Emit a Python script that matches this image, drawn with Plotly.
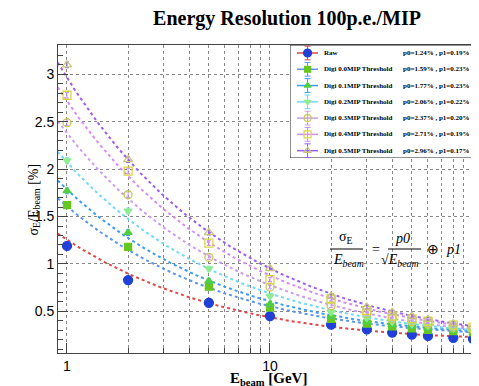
import numpy as np
import plotly.graph_objects as go

# ---------------- data ----------------
energies = [1, 2, 5, 10, 20, 30, 40, 50, 60, 80, 100]

series_names = ["Raw", "Digi 0.0MIP Threshold", "Digi 0.1MIP Threshold",
                "Digi 0.2MIP Threshold", "Digi 0.3MIP Threshold",
                "Digi 0.4MIP Threshold", "Digi 0.5MIP Threshold"]

res_raw = [1.19, 0.83, 0.59, 0.45, 0.36, 0.31, 0.275, 0.255, 0.24, 0.22, 0.21]
res_d00 = [1.62, 1.18, 0.76, 0.54, 0.42, 0.37, 0.34, 0.32, 0.305, 0.29, 0.28]
res_d01 = [1.77, 1.33, 0.82, 0.575, 0.45, 0.39, 0.36, 0.34, 0.325, 0.30, 0.29]
res_d02 = [2.09, 1.56, 0.95, 0.66, 0.49, 0.43, 0.39, 0.365, 0.345, 0.32, 0.30]
res_d03 = [2.49, 1.73, 1.07, 0.757, 0.56, 0.475, 0.42, 0.39, 0.365, 0.33, 0.31]
res_d04 = [2.78, 1.98, 1.22, 0.835, 0.63, 0.51, 0.45, 0.42, 0.395, 0.355, 0.33]
res_d05 = [3.10, 2.10, 1.33, 0.95, 0.66, 0.545, 0.49, 0.45, 0.415, 0.37, 0.34]
res_err = [0.03, 0.03, 0.025, 0.02, 0.02, 0.02, 0.02, 0.02, 0.02, 0.02, 0.02]

fit_p0 = [1.24, 1.59, 1.77, 2.06, 2.37, 2.71, 2.96]
fit_p1 = [0.19, 0.23, 0.23, 0.22, 0.20, 0.19, 0.17]

x_ticks = [1, 10, 100]
x_minor_ticks = [2, 3, 4, 5, 6, 7, 8, 9, 20, 30, 40, 50, 60, 70, 80, 90]
y_ticks = [0.5, 1, 1.5, 2, 2.5, 3]

all_res = [res_raw, res_d00, res_d01, res_d02, res_d03, res_d04, res_d05]

# ---------------- styles ----------------
line_colors = ["#e04848", "#5a96f0", "#3a9cf8", "#70d8f8", "#cc9cf0", "#d88af8", "#9c5cf4"]
marker_colors = ["#2040d8", "#66c81e", "#50d040", "#90ec90", "#c8c850", "#d8d840", "#c8c878"]
marker_symbols = ["circle", "square", "triangle-up", "triangle-down",
                  "circle-open", "square-open", "triangle-up-open"]
marker_sizes = [9, 7, 7, 7, 8, 8, 8]

# page body has an 8px margin: figure is drawn at (8, 8) in the window
OFF = 8
W, H = 479 - OFF, 386 - OFF
ML, MR, MT, MB = 58 - OFF, 0, 45 - OFF, 33
PW, PH = W - ML - MR, H - MT - MB


def px(xp):
    return (xp - OFF - ML) / PW


def py(yp):
    return (H - MB - (yp - OFF)) / PH


fig = go.Figure()

x_fit = np.logspace(np.log10(0.9), np.log10(110), 200)

for i, name in enumerate(series_names):
    y_fit = np.sqrt(fit_p0[i] ** 2 / x_fit + fit_p1[i] ** 2)
    fig.add_trace(go.Scatter(
        x=x_fit, y=y_fit, mode="lines", showlegend=False, hoverinfo="skip",
        line=dict(color=line_colors[i], width=2, dash="dot")))

for i, name in enumerate(series_names):
    fig.add_trace(go.Scatter(
        x=energies, y=all_res[i], mode="markers", name=name, showlegend=False,
        marker=dict(symbol=marker_symbols[i], size=marker_sizes[i],
                    color=marker_colors[i],
                    line=dict(color=marker_colors[i], width=1.3)),
        error_y=dict(type="data", array=res_err, color=line_colors[i],
                     thickness=1, width=2),
    ))

# ---------------- legend (inset axes) ----------------
leg_rows = list(range(len(series_names)))
fig.add_trace(go.Scatter(
    x=[0, 1.2, 1.2, 0, 0], y=[-0.49, -0.49, 6.45, 6.45, -0.49], xaxis="x2", yaxis="y2",
    mode="lines", fill="toself", fillcolor="white", line=dict(color="#222", width=1),
    showlegend=False, hoverinfo="skip"))
for i, name in enumerate(series_names):
    fig.add_trace(go.Scatter(
        x=[0.037, 0.148], y=[leg_rows[i], leg_rows[i]], xaxis="x2", yaxis="y2",
        mode="lines", line=dict(color=line_colors[i], width=1.5),
        showlegend=False, hoverinfo="skip"))
    fig.add_trace(go.Scatter(
        x=[0.093], y=[leg_rows[i]], xaxis="x2", yaxis="y2", mode="markers",
        marker=dict(symbol=marker_symbols[i], size=marker_sizes[i] - 1,
                    color=marker_colors[i], line=dict(color=marker_colors[i], width=1.2)),
        error_y=dict(type="constant", value=0.42, color=line_colors[i], thickness=1, width=3),
        showlegend=False, hoverinfo="skip"))
    fig.add_annotation(
        xref="x2", yref="y2", x=0.17, y=leg_rows[i], text=f"<b>{name}</b>",
        showarrow=False, xanchor="left", yanchor="middle",
        font=dict(family="Liberation Serif", size=7, color="black"))
    fig.add_annotation(
        xref="x2", yref="y2", x=0.587, y=leg_rows[i],
        text=f"<b>p0={fit_p0[i]:.2f}% , p1={fit_p1[i]:.2f}%</b>",
        showarrow=False, xanchor="left", yanchor="middle",
        font=dict(family="Liberation Serif", size=7, color="black"))

# ---------------- formula ----------------
ffont = dict(family="Liberation Serif", size=14, color="black")
formula_parts = [
    (337, 248, "σ<sub>E</sub>", "bottom"),
    (331, 250, "<i>E<sub>beam</sub></i>", "top"),
    (370, 249, "=", "middle"),
    (393, 248, "<i>p0</i>", "bottom"),
    (379, 250, "√<i>E<sub>beam</sub></i>", "top"),
    (425, 249, "⊕", "middle"),
    (444, 249, "<i>p1</i>", "middle"),
]
for fx, fy, ftxt, fya in formula_parts:
    fig.add_annotation(xref="paper", yref="paper", x=px(fx), y=py(fy), text=ftxt,
                       showarrow=False, font=ffont, xanchor="left", yanchor=fya)
fig.add_shape(type="line", xref="paper", yref="paper", x0=px(330), x1=px(363), y0=py(249), y1=py(249),
              line=dict(color="black", width=1))
fig.add_shape(type="line", xref="paper", yref="paper", x0=px(388), x1=px(421), y0=py(249), y1=py(249),
              line=dict(color="black", width=1))

# ---------------- axis titles ----------------
fig.add_annotation(xref="paper", yref="paper", x=px(268), y=py(379),
                   text="<b>E<sub>beam</sub> [GeV]</b>", showarrow=False, yanchor="middle",
                   font=dict(family="Liberation Serif", size=15, color="black"))
fig.add_annotation(xref="paper", yref="paper", x=px(23), y=py(200), textangle=-90,
                   text="σ<sub>E</sub>/E<sub>beam</sub> [%]", showarrow=False,
                   font=dict(family="Liberation Serif", size=14, color="black"))

axis_common = dict(
    showline=True, linecolor="#444", linewidth=1, mirror=True,
    ticks="inside", ticklen=10, tickcolor="#444",
    showgrid=True, gridcolor="#888", griddash="dot", gridwidth=1,
    zeroline=False, automargin=False,
    tickfont=dict(family="Liberation Sans", size=14, color="black"),
)

fig.update_layout(
    xaxis=dict(type="log", range=[-0.0443, 2.0296],
               tickvals=x_ticks, ticktext=[str(v) for v in x_ticks],
               minor=dict(tickvals=x_minor_ticks, ticks="inside", ticklen=5, tickcolor="#444",
                          showgrid=True, gridcolor="#888", griddash="dot", gridwidth=1),
               **axis_common),
    yaxis=dict(range=[0.06, 3.31], tickvals=y_ticks,
               ticktext=["0.5", "1", "1.5", "2", "2.5", "3"],
               minor=dict(ticks="inside", ticklen=5, tickcolor="#444", dtick=0.1, showgrid=False),
               **axis_common),
    xaxis2=dict(domain=[px(290), 1], range=[0, 1], visible=False, anchor="y2"),
    yaxis2=dict(domain=[py(158), 1], range=[6.45, -0.49], visible=False, anchor="x2"),
)

fig.update_layout(
    width=W, height=H,
    margin=dict(l=ML, r=MR, t=MT, b=MB),
    paper_bgcolor="white", plot_bgcolor="white",
    title=dict(text="<b>Energy Resolution 100p.e./MIP</b>", x=(287 - OFF) / W, xanchor="center",
               y=1 - (18 - OFF) / H, yanchor="middle",
               font=dict(family="Liberation Serif", size=20, color="black")),
    showlegend=False,
)

fig.write_html("out.html")
